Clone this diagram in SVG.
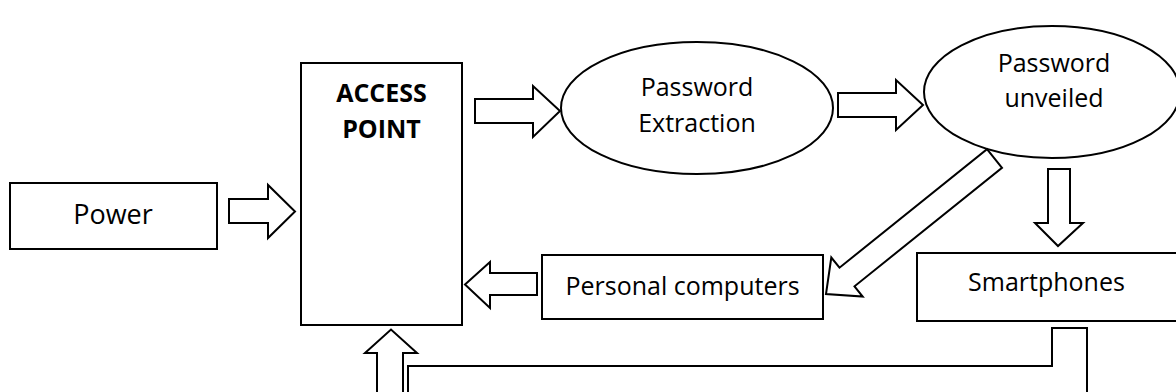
<svg xmlns="http://www.w3.org/2000/svg" width="1176" height="392" viewBox="0 0 1176 392">
  <style>
    .shape { fill: #ffffff; stroke: #000000; stroke-width: 2; }
    .arrow { fill: #ffffff; stroke: #000000; stroke-width: 2; stroke-linejoin: miter; }
    .line { fill: none; stroke: #000000; stroke-width: 2; }
    .lbl { font-family: "Open Sans", "Noto Sans", sans-serif; font-size: 25px; fill: #000000; text-anchor: middle; }
    .bold { font-weight: bold; }
  </style>
  <rect width="1176" height="392" fill="#ffffff"/>

  <g id="power">
    <rect class="shape" x="10" y="183" width="207" height="66"/>
    <text class="lbl" x="113" y="224" style="font-size:27px">Power</text>
  </g>

  <g id="access-point">
    <rect class="shape" x="301" y="63" width="161" height="262"/>
    <text class="lbl bold" x="381.5" y="102">ACCESS</text>
    <text class="lbl bold" x="381.5" y="138">POINT</text>
  </g>

  <g id="password-extraction">
    <ellipse class="shape" cx="697" cy="108" rx="136" ry="66"/>
    <text class="lbl" x="697" y="96">Password</text>
    <text class="lbl" x="697" y="132">Extraction</text>
  </g>

  <g id="password-unveiled">
    <ellipse class="shape" cx="1052" cy="92" rx="128" ry="66"/>
    <text class="lbl" x="1054" y="72">Password</text>
    <text class="lbl" x="1054" y="107">unveiled</text>
  </g>

  <g id="personal-computers">
    <rect class="shape" x="542" y="255" width="281" height="64"/>
    <text class="lbl" x="682.5" y="295">Personal computers</text>
  </g>

  <g id="smartphones">
    <rect class="shape" x="917" y="253" width="270" height="68"/>
    <text class="lbl" x="1046.5" y="291">Smartphones</text>
  </g>

  <g id="connectors">
    <!-- Power -> Access Point -->
    <polygon class="arrow" points="229,199 268,199 268,185 295,211.5 268,238 268,223 229,223"/>
    <!-- Access Point -> Password Extraction -->
    <polygon class="arrow" points="475,99 533,99 533,86 560,111 533,137 533,123 475,123"/>
    <!-- Password Extraction -> Password unveiled -->
    <polygon class="arrow" points="838,93 896,93 896,80 923,105 896,130 896,117 838,117"/>
    <!-- Password unveiled -> Personal computers -->
    <polygon class="arrow" points="987,149.2 1002,167.8 854.5,286.3 862.7,296.5 826,294 831.3,257.5 839.5,267.7"/>
    <!-- Password unveiled -> Smartphones -->
    <polygon class="arrow" points="1048,169 1070,169 1070,223 1083,223 1058,246 1035,223 1048,223"/>
    <!-- Personal computers -> Access Point -->
    <polygon class="arrow" points="537,273 490,273 490,262 465,284.5 490,308 490,295 537,295"/>
    <!-- Smartphones -> Access Point (bent, cropped at bottom) -->
    <polyline class="line" points="1087,394 1087,328 1052,328 1052,366 408,366 408,394"/>
    <polygon class="arrow" points="377,394 377,353 365,353 391,329.5 417,353 403,353 403,394"/>
  </g>
</svg>
